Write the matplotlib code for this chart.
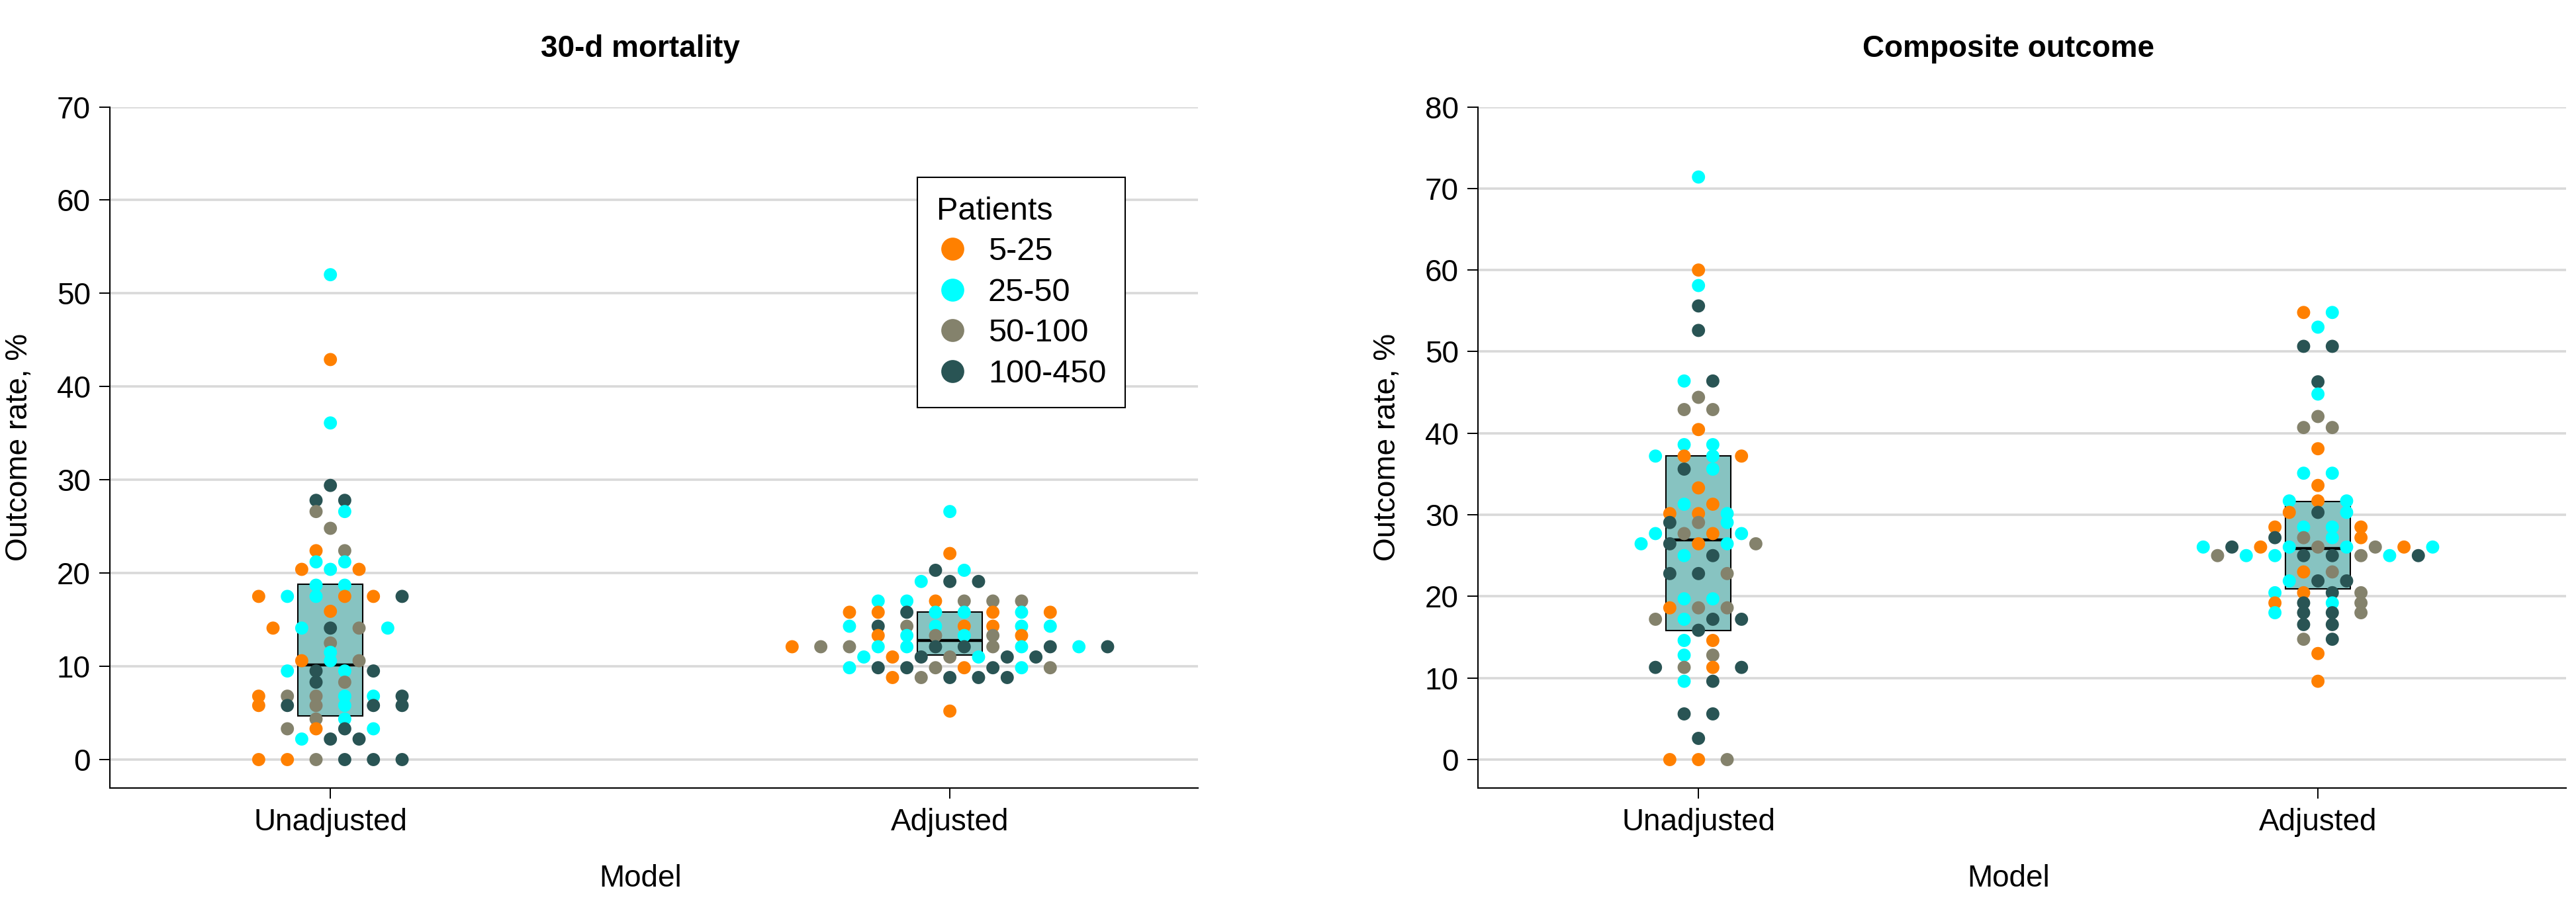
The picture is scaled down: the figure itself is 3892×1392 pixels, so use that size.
import matplotlib
matplotlib.use("Agg")
import matplotlib.pyplot as plt
import numpy as np
from matplotlib.lines import Line2D
from matplotlib.patches import Rectangle

plt.rcParams['font.family'] = ['Liberation Sans', 'DejaVu Sans']

# ---------------- data ----------------
size_groups = ["5-25", "25-50", "50-100", "100-450"]
group_colors = ["#ff8000", "#00ffff", "#84826c", "#295454"]
models = ["Unadjusted", "Adjusted"]
panel_titles = ["30-d mortality", "Composite outcome"]

# codes: 0 = 5-25, 1 = 25-50, 2 = 50-100, 3 = 100-450
mort_unadj_rate = [52.0, 42.9, 36.1, 29.4, 27.8, 27.8, 26.6, 26.6, 24.8, 22.4, 22.4,
                   21.2, 21.2, 20.4, 20.4, 20.4, 18.7, 18.7,
                   17.5, 17.5, 17.5, 17.5, 17.5, 17.5, 15.9,
                   14.1, 14.1, 14.1, 14.1, 14.1, 12.5, 11.5, 10.6, 10.6, 10.6,
                   9.5, 9.5, 9.5, 9.5, 8.3, 8.3,
                   6.8, 6.8, 6.8, 6.8, 6.8, 6.8, 5.8, 5.8, 5.8, 5.8, 5.8, 5.8,
                   4.35, 4.35, 3.3, 3.3, 3.3, 3.3, 2.2, 2.2, 2.2,
                   0.0, 0.0, 0.0, 0.0, 0.0, 0.0]
mort_unadj_size = [1, 0, 1, 3, 3, 3, 2, 1, 2, 0, 2,
                   1, 1, 0, 1, 0, 1, 1,
                   0, 1, 1, 0, 0, 3, 0,
                   0, 1, 3, 2, 1, 2, 1, 0, 1, 2,
                   1, 3, 1, 3, 3, 2,
                   0, 2, 2, 1, 1, 3, 0, 3, 2, 1, 3, 3,
                   2, 1, 2, 0, 3, 1, 1, 3, 3,
                   0, 0, 2, 3, 3, 3]

mort_adj_rate = [26.6, 22.1, 20.3, 20.3, 19.1, 19.1, 19.1,
                 17.0, 17.0, 17.0, 17.0, 17.0, 17.0,
                 15.8, 15.8, 15.8, 15.8, 15.8, 15.8, 15.8, 15.8,
                 14.3, 14.3, 14.3, 14.3, 14.3, 14.3, 14.3, 14.3,
                 13.3, 13.3, 13.3, 13.3, 13.3, 13.3,
                 12.1, 12.1, 12.1, 12.1, 12.1, 12.1, 12.1, 12.1, 12.1, 12.1, 12.1, 12.1,
                 11.0, 11.0, 11.0, 11.0, 11.0, 11.0, 11.0,
                 9.85, 9.85, 9.85, 9.85, 9.85, 9.85, 9.85, 9.85,
                 8.8, 8.8, 8.8, 8.8, 8.8, 5.2]
mort_adj_size = [1, 0, 3, 1, 1, 3, 3,
                 1, 1, 0, 2, 2, 2,
                 0, 0, 3, 1, 1, 0, 1, 0,
                 1, 3, 2, 1, 0, 0, 1, 1,
                 0, 1, 2, 1, 2, 0,
                 0, 2, 2, 1, 1, 3, 3, 2, 1, 3, 1, 3,
                 1, 0, 3, 2, 1, 3, 3,
                 1, 3, 3, 2, 0, 3, 1, 2,
                 0, 2, 3, 3, 3, 0]

comp_unadj_rate = [71.4, 60.0, 58.1, 55.6, 52.6, 46.4, 46.4, 44.4, 42.9, 42.9, 40.45,
                   38.6, 38.6, 37.2, 37.2, 37.2, 37.2, 35.6, 35.6, 33.3, 31.3, 31.3,
                   30.15, 30.15, 30.15, 29.06, 29.06, 29.06,
                   27.7, 27.7, 27.7, 27.7, 26.45, 26.45, 26.45, 26.45, 26.45,
                   25.0, 25.0, 22.8, 22.8, 22.8, 19.7, 19.7, 18.6, 18.6, 18.6,
                   17.2, 17.2, 17.2, 17.2, 15.85, 14.6, 14.6, 12.8, 12.8,
                   11.3, 11.3, 11.3, 11.3, 9.6, 9.6, 5.6, 5.6, 2.6, 0.0, 0.0, 0.0]
comp_unadj_size = [1, 0, 1, 3, 3, 1, 3, 2, 2, 2, 0,
                   1, 1, 1, 0, 1, 0, 3, 1, 0, 1, 0,
                   0, 0, 1, 3, 2, 1,
                   1, 2, 0, 1, 1, 3, 0, 1, 2,
                   1, 3, 3, 3, 2, 1, 1, 0, 2, 2,
                   2, 1, 3, 3, 3, 1, 0, 1, 2,
                   3, 2, 0, 3, 1, 3, 3, 3, 3, 0, 0, 2]

comp_adj_rate = [54.8, 54.8, 53.0, 50.65, 50.65, 46.3, 44.8, 42.05, 40.7, 40.7, 38.1,
                 35.1, 35.1, 33.6, 31.7, 31.7, 31.7, 30.3, 30.3, 30.3,
                 28.5, 28.5, 28.5, 28.5, 27.2, 27.2, 27.2, 27.2,
                 26.05, 26.05, 26.05, 26.05, 26.05, 26.05, 26.05, 26.05, 26.05,
                 25.0, 25.0, 25.0, 25.0, 25.0, 25.0, 25.0, 25.0,
                 23.0, 23.0, 21.9, 21.9, 21.9, 20.45, 20.45, 20.45, 20.45,
                 19.2, 19.2, 19.2, 19.2, 18.0, 18.0, 18.0, 18.0,
                 16.55, 16.55, 14.75, 14.75, 13.0, 9.6]
comp_adj_size = [0, 1, 1, 3, 3, 3, 1, 2, 2, 2, 0,
                 1, 1, 0, 1, 0, 1, 0, 3, 1,
                 0, 1, 1, 0, 3, 2, 1, 0,
                 1, 3, 0, 1, 2, 1, 2, 0, 1,
                 2, 1, 1, 3, 3, 2, 1, 3,
                 0, 2, 1, 3, 3, 1, 0, 3, 2,
                 0, 3, 1, 2, 1, 3, 3, 2,
                 3, 3, 2, 3, 0, 0]

# box summaries (Q1, median, Q3) per model
mort_q1 = [4.7, 11.2]
mort_median = [10.15, 12.75]
mort_q3 = [18.8, 15.8]
comp_q1 = [15.85, 20.95]
comp_median = [26.9, 25.9]
comp_q3 = [37.2, 31.6]

# ---------------- figure ----------------
W, H = 3892, 1392
fig = plt.figure(figsize=(W / 100, H / 100), dpi=100)

FS = 33
LEG_FS = 35
box_color = "#87c3c1"
grid_color = "#d9d9d9"
step = 0.0463       # horizontal spacing between dots (data units)
half_box = 0.0524


def row_offsets(values, step):
    vals = np.asarray(values, dtype=float)
    off = np.zeros(len(vals))
    for v in np.unique(vals):
        idx = np.where(vals == v)[0]
        n = len(idx)
        off[idx] = (np.arange(n) - (n - 1) / 2.0) * step
    return off


panels = [
    dict(title=panel_titles[0], data=[(mort_unadj_rate, mort_unadj_size), (mort_adj_rate, mort_adj_size)],
         q1=mort_q1, med=mort_median, q3=mort_q3, ylim=(-3.03, 70), yticks=np.arange(0, 71, 10),
         left=166),
    dict(title=panel_titles[1], data=[(comp_unadj_rate, comp_unadj_size), (comp_adj_rate, comp_adj_size)],
         q1=comp_q1, med=comp_median, q3=comp_q3, ylim=(-3.46, 80), yticks=np.arange(0, 81, 10),
         left=2233),
]

ax_bottom = (H - 1190.7) / H
ax_height = 1029.2 / H
ax_width = 1643.5 / W
xlim = (-0.356, 1.40)

axes = []
for p in panels:
    ax = fig.add_axes([p['left'] / W, ax_bottom, ax_width, ax_height])
    axes.append(ax)
    ax.set_xlim(*xlim)
    ax.set_ylim(*p['ylim'])
    ax.set_yticks(p['yticks'])
    ax.set_yticklabels([str(int(t)) for t in p['yticks']])
    ax.set_xticks(range(len(models)))
    ax.set_xticklabels(models)
    ax.grid(axis='y', color=grid_color, linewidth=2.6, zorder=0)
    ax.set_axisbelow(True)
    for s in ['top', 'right']:
        ax.spines[s].set_visible(False)
    for s in ['left', 'bottom']:
        ax.spines[s].set_linewidth(1.5)
        ax.spines[s].set_color('black')
    ax.tick_params(axis='y', length=11.5, width=1.4, pad=9.4, labelsize=FS)
    ax.tick_params(axis='x', length=11.5, width=1.4, pad=10.5, labelsize=FS)

    for i, (rates, sizes) in enumerate(p['data']):
        # box
        rect = Rectangle((i - half_box, p['q1'][i]), 2 * half_box, p['q3'][i] - p['q1'][i],
                         facecolor=box_color, edgecolor='black', linewidth=1.5, zorder=2)
        ax.add_patch(rect)
        ax.plot([i - half_box, i + half_box], [p['med'][i], p['med'][i]], color='black',
                linewidth=3.2, solid_capstyle='butt', zorder=2.5)
        # dots
        off = row_offsets(rates, step)
        cols = [group_colors[c] for c in sizes]
        ax.scatter(i + off, rates, s=205, c=cols, linewidths=0, zorder=3)

    # titles / labels in figure coordinates
    left_px = p['left']
    cat_mid_px = left_px + (0.5 - xlim[0]) / (xlim[1] - xlim[0]) * 1643.5
    fig.text(cat_mid_px / W, 1 - 74 / H, p['title'], ha='center', va='center',
             fontsize=FS, fontweight='bold')
    fig.text(cat_mid_px / W, 1 - 1328 / H, "Model", ha='center', va='center', fontsize=FS)
    fig.text((left_px - 137) / W, 1 - 676 / H, "Outcome rate, %", ha='center', va='center',
             rotation=90, fontsize=FS)

# legend in the first panel
handles = [Line2D([], [], linestyle='none', marker='o', markersize=25, markerfacecolor=c,
                  markeredgewidth=0) for c in group_colors]
leg = axes[0].legend(handles, size_groups, title="Patients", loc='upper left',
                     bbox_to_anchor=(1386 / W, 1 - 268 / H), bbox_transform=fig.transFigure,
                     borderaxespad=0, fontsize=LEG_FS, title_fontsize=LEG_FS, frameon=True,
                     fancybox=False, edgecolor='black', framealpha=1,
                     handlelength=1.0, handletextpad=0.61, borderpad=0.59,
                     labelspacing=0.34, alignment='left')
leg.get_frame().set_linewidth(1.5)

fig.savefig("out.png", dpi=100)
